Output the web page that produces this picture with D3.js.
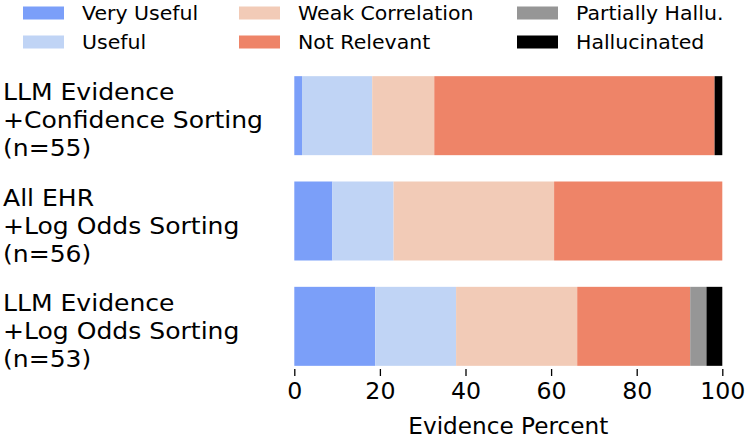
<!DOCTYPE html>
<html><head><meta charset="utf-8">
<script src="https://cdn.jsdelivr.net/npm/d3@7"></script>
<style>body{margin:0;background:#fff}svg{display:block}</style>
</head><body>
<script>
const categories = [
  ["LLM Evidence","+Confidence Sorting","(n=55)"],
  ["All EHR","+Log Odds Sorting","(n=56)"],
  ["LLM Evidence","+Log Odds Sorting","(n=53)"]
];
const seriesNames = ["Very Useful","Useful","Weak Correlation","Not Relevant","Partially Hallu.","Hallucinated"];
const colors = ["#7b9ff9","#c0d4f5","#f2cbb7","#ee8468","#969696","#000000"];
const veryUseful   = [1.8, 8.9, 18.9];
const useful       = [16.4, 14.3, 18.9];
const weakCorr     = [14.5, 37.5, 28.3];
const notRelevant  = [65.5, 39.3, 26.4];
const partialHallu = [0.0, 0.0, 3.8];
const hallucinated = [1.8, 0.0, 3.7];
const xTicks = [0,20,40,60,80,100];

const W=747,H=438;
const svg=d3.select("body").append("svg").attr("width",W).attr("height",H);
const font="DejaVu Sans";
const rows=categories.map((c,i)=>({key:i,
  "Very Useful":veryUseful[i],"Useful":useful[i],"Weak Correlation":weakCorr[i],
  "Not Relevant":notRelevant[i],"Partially Hallu.":partialHallu[i],"Hallucinated":hallucinated[i]}));
const stacked=d3.stack().keys(seriesNames)(rows);
const x=d3.scaleLinear().domain([0,100]).range([294.3,722.3]);
const y=d3.scaleBand().domain([0,1,2]).range([63,379]).paddingInner(0.25).paddingOuter(0.125);
const color=d3.scaleOrdinal().domain(seriesNames).range(colors);

svg.append("g").selectAll("g").data(stacked).join("g").attr("fill",d=>color(d.key))
  .selectAll("rect").data(d=>d).join("rect")
  .attr("x",d=>x(d[0])).attr("width",d=>Math.max(0,x(d[1])-x(d[0])))
  .attr("y",(d,i)=>y(i)).attr("height",y.bandwidth());

const ax=svg.append("g").attr("transform",`translate(0,${369})`)
  .call(d3.axisBottom(x).tickValues(xTicks).tickSize(7).tickPadding(7).tickFormat(d3.format("d")));
ax.select(".domain").remove();
ax.selectAll(".tick line").attr("stroke","#000").attr("stroke-width",1.3);
ax.selectAll("text").attr("font-family",font).attr("font-size",23).attr("fill","#000")
  .attr("transform","scale(1.03,1)");

svg.append("text").attr("transform",`translate(${(x(0)+x(100))/2},434) scale(1.03,1)`).attr("text-anchor","middle")
  .attr("font-family",font).attr("font-size",22.5).text("Evidence Percent");

categories.forEach((lines,i)=>{
  const cy=y(i)+y.bandwidth()/2;
  const t=svg.append("text").attr("font-family",font).attr("font-size",23).attr("fill","#000")
    .attr("transform","translate(3,0) scale(1.09,1)");
  lines.forEach((l,j)=>t.append("tspan").attr("x",0).attr("y",cy+(j-1)*28+12.6).text(l));
});

const legX=[23,239,517], legY=[13,42];
seriesNames.forEach((s,k)=>{
  const col=Math.floor(k/2), row=k%2;
  const g=svg.append("g");
  g.append("rect").attr("x",legX[col]).attr("y",legY[row]-6.5).attr("width",41).attr("height",13).attr("fill",colors[k]);
  g.append("text").attr("transform",`translate(${legX[col]+59},${legY[row]+7}) scale(1.05,1)`)
    .attr("font-family",font).attr("font-size",19.5).text(s);
});
</script>
</body></html>
